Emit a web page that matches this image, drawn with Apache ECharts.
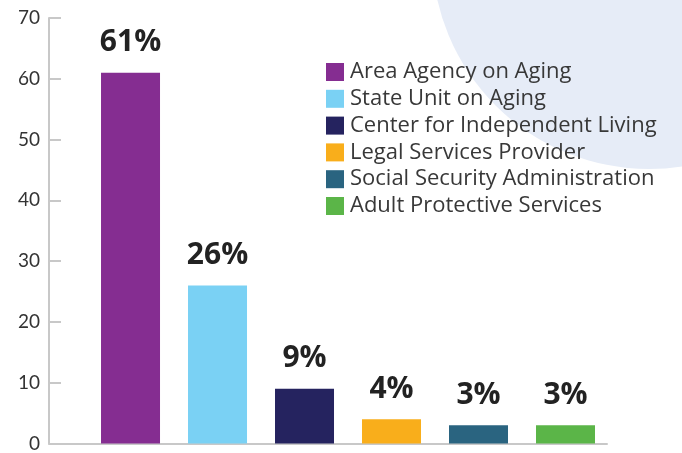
<!DOCTYPE html>
<html>
<head>
<meta charset="utf-8">
<script src="https://cdn.jsdelivr.net/npm/echarts@6/dist/echarts.min.js"></script>
<style>
  html, body { margin: 0; padding: 0; background: #fff; }
  #chart { width: 682px; height: 453px; }
</style>
</head>
<body>
<div id="chart"></div>
<script>
// data
var categories = ['Area Agency on Aging', 'State Unit on Aging', 'Center for Independent Living',
  'Legal Services Provider', 'Social Security Administration', 'Adult Protective Services'];
var values = [61, 26, 9, 4, 3, 3];
var colors = ['#852d91', '#7ad1f4', '#25235f', '#f9ae1b', '#2a6480', '#5bb548'];
var yTicks = [0, 10, 20, 30, 40, 50, 60, 70];

var myChart = echarts.init(document.getElementById('chart'));

var series = [];
for (var i = 0; i < categories.length; ++i) {
  series.push({
    name: categories[i],
    type: 'bar',
    barWidth: 59,
    barGap: '-100%',
    itemStyle: { color: colors[i] },
    label: {
      show: true,
      position: 'top',
      distance: 15,
      color: '#222',
      fontFamily: 'Open Sans',
      fontWeight: 'bold',
      fontSize: 30,
      formatter: function (p) { return p.value[1] + '%'; }
    },
    data: [[i + 1, values[i]]]
  });
}

myChart.setOption({
  animation: false,
  color: colors,
  graphic: [{
    type: 'circle',
    z: -10,
    silent: true,
    shape: { cx: 649, cy: -48, r: 217 },
    style: { fill: '#e6ecf7' }
  }],
  legend: {
    orient: 'vertical',
    left: 326,
    top: 61,
    padding: 0,
    itemWidth: 18,
    itemHeight: 18,
    itemGap: 4.8,
    icon: 'rect',
    textStyle: { color: '#383838', fontFamily: 'Open Sans', fontSize: 22, lineHeight: 20, padding: [0, 0, 0, 1] },
    data: categories
  },
  grid: { left: 49, right: 75, top: 18, bottom: 7 },
  xAxis: {
    type: 'value',
    min: 0.063,
    max: 6.477,
    axisLine: { show: true, lineStyle: { color: '#c8c8c8', width: 2 } },
    axisTick: { show: false },
    axisLabel: { show: false },
    splitLine: { show: false }
  },
  yAxis: {
    type: 'value',
    min: yTicks[0],
    max: yTicks[yTicks.length - 1],
    interval: 10,
    axisLine: { show: true, lineStyle: { color: '#c8c8c8', width: 2 } },
    axisTick: { show: true, inside: true, length: 12, lineStyle: { color: '#c8c8c8', width: 2 } },
    axisLabel: { color: '#333', fontFamily: 'Lato', fontSize: 19, margin: 9 },
    splitLine: { show: false }
  },
  series: series
});
</script>
</body>
</html>
